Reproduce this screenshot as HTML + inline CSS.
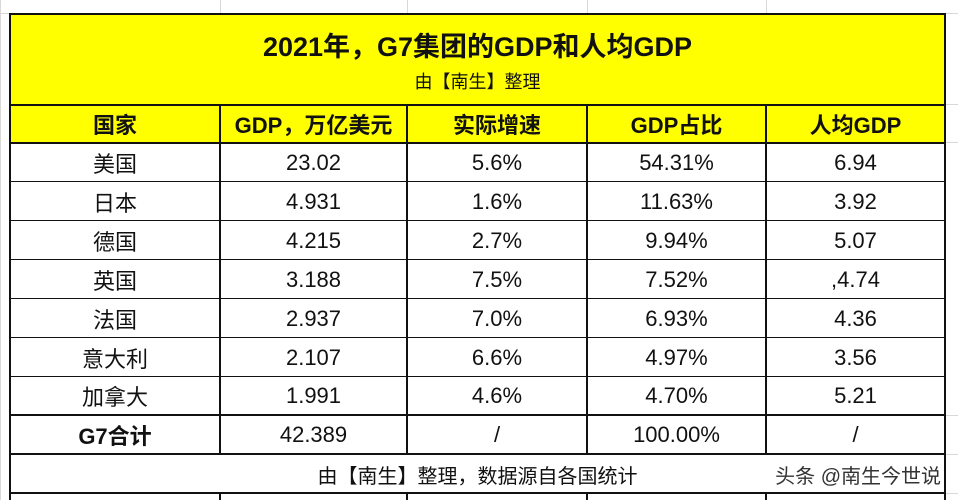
<!DOCTYPE html>
<html><head><meta charset="utf-8"><style>
body{margin:0;width:958px;height:500px;background:#fff;position:relative;overflow:hidden;font-family:"Liberation Sans","Noto Sans CJK SC",sans-serif;color:#111}
.g{position:absolute;background:#d8d8d8}
.h{position:absolute;background:#111}
.c{position:absolute;display:flex;align-items:center;justify-content:center;font-size:21px;white-space:nowrap}
.b{font-weight:bold}
</style></head><body>
<div class="g" style="left:0;top:13px;width:958px;height:1px"></div>
<div class="g" style="left:220px;top:0;width:1px;height:14px"></div>
<div class="g" style="left:407px;top:0;width:1px;height:14px"></div>
<div class="g" style="left:587px;top:0;width:1px;height:14px"></div>
<div class="g" style="left:766px;top:0;width:1px;height:14px"></div>
<div class="g" style="left:0;top:0;width:1px;height:500px"></div>
<div style="position:absolute;left:10px;top:14px;width:935px;height:129px;background:#ffff00"></div>
<div class="c b" style="left:10px;top:22px;width:935px;height:44px;font-size:27px">2021年，G7集团的GDP和人均GDP</div>
<div class="c" style="left:10px;top:64px;width:935px;height:34px;font-size:18px">由【南生】整理</div>
<div class="h" style="left:9px;top:13px;width:937px;height:2px"></div>
<div class="h" style="left:9px;top:13px;width:2px;height:487px"></div>
<div class="h" style="left:944px;top:13px;width:2px;height:487px"></div>
<div class="h" style="left:9px;top:104px;width:937px;height:2px"></div>
<div class="h" style="left:9px;top:142px;width:937px;height:2px"></div>
<div class="h" style="left:9px;top:181px;width:937px;height:1px"></div>
<div class="h" style="left:9px;top:220px;width:937px;height:1px"></div>
<div class="h" style="left:9px;top:259px;width:937px;height:1px"></div>
<div class="h" style="left:9px;top:298px;width:937px;height:1px"></div>
<div class="h" style="left:9px;top:337px;width:937px;height:1px"></div>
<div class="h" style="left:9px;top:376px;width:937px;height:1px"></div>
<div class="h" style="left:9px;top:414px;width:937px;height:2px"></div>
<div class="h" style="left:9px;top:453px;width:937px;height:2px"></div>
<div class="h" style="left:9px;top:492px;width:937px;height:2px"></div>
<div class="h" style="left:219px;top:104px;width:2px;height:350px"></div>
<div class="h" style="left:406px;top:104px;width:2px;height:350px"></div>
<div class="h" style="left:586px;top:104px;width:2px;height:350px"></div>
<div class="h" style="left:765px;top:104px;width:2px;height:350px"></div>
<div class="h" style="left:219px;top:493px;width:2px;height:7px"></div>
<div class="h" style="left:406px;top:493px;width:2px;height:7px"></div>
<div class="h" style="left:586px;top:493px;width:2px;height:7px"></div>
<div class="h" style="left:765px;top:493px;width:2px;height:7px"></div>
<div class="g" style="left:946px;top:104px;width:12px;height:1px"></div>
<div class="g" style="left:946px;top:142px;width:12px;height:1px"></div>
<div class="g" style="left:946px;top:415px;width:12px;height:1px"></div>
<div class="g" style="left:946px;top:454px;width:12px;height:1px"></div>
<div class="g" style="left:946px;top:493px;width:12px;height:1px"></div>
<div id="t"></div>
<script>
var cols=[[11,208],[221,185],[408,178],[588,177],[767,177]];
var rows=[["国家","GDP，万亿美元","实际增速","GDP占比","人均GDP"],
["美国","23.02","5.6%","54.31%","6.94"],["日本","4.931","1.6%","11.63%","3.92"],
["德国","4.215","2.7%","9.94%","5.07"],["英国","3.188","7.5%","7.52%",",4.74"],
["法国","2.937","7.0%","6.93%","4.36"],["意大利","2.107","6.6%","4.97%","3.56"],
["加拿大","1.991","4.6%","4.70%","5.21"],["G7合计","42.389","/","100.00%","/"]];
var tops=[105,143,182,221,260,299,338,377,416],hs=[38,39,39,39,39,39,39,38,38];
var h="";
rows.forEach(function(r,i){r.forEach(function(v,j){var b=(i==0||(i==8&&j==0))?" b":"";
h+='<div class="c'+b+'" style="left:'+cols[j][0]+'px;top:'+tops[i]+'px;width:'+cols[j][1]+'px;height:'+hs[i]+'px;font-size:22px">'+v+'</div>';});});
document.getElementById("t").innerHTML=h;
</script>
<div class="c" style="left:11px;top:455px;width:933px;height:38px;font-size:20px">由【南生】整理，数据源自各国统计</div>
<div class="c" style="left:741px;top:455px;width:200px;height:38px;font-size:20px;color:#333;justify-content:flex-end">头条 @南生今世说</div>
</body></html>
